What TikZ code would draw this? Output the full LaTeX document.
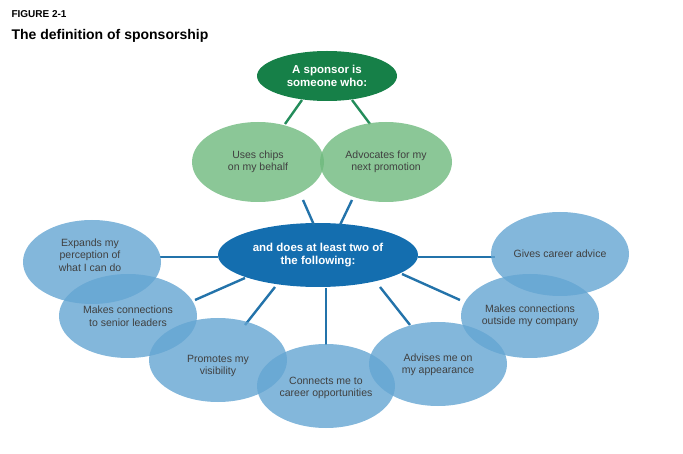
\documentclass[tikz,border=0pt]{standalone}
\usepackage{fontspec}
\setmainfont{Liberation Sans}
\usetikzlibrary{shapes.geometric}
\definecolor{darkgreen}{RGB}{22,128,72}
\definecolor{lightgreen}{RGB}{110,185,125}
\definecolor{darkblue}{RGB}{20,110,175}
\definecolor{lightblue}{RGB}{100,165,210}
\definecolor{spoke}{RGB}{35,115,170}
\definecolor{grnline}{RGB}{35,140,90}
\begin{document}
\begin{tikzpicture}[x=1pt,y=-1pt,
    hub/.style={ellipse, text=white, font=\bfseries\fontsize{11.5}{13}\selectfont, align=center, inner sep=0pt},
    leaf/.style={ellipse, fill opacity=0.8, inner sep=0pt, minimum width=138pt, minimum height=84pt},
    gleaf/.style={leaf, fill=lightgreen, minimum width=132pt, minimum height=80pt},
    bleaf/.style={leaf, fill=lightblue},
    label/.style={font=\fontsize{10.5}{12.5}\selectfont, align=center, text=black!75},
    link/.style={line width=2.4pt}]
        \useasboundingbox (0,0) rectangle (683,454);
        % Titles
        \node [anchor=west, font=\bfseries\fontsize{10}{12}\selectfont] (fig) at (8,14) {FIGURE 2-1};
        \node [anchor=west, font=\bfseries\fontsize{14}{16}\selectfont] (title) at (8,36) {The definition of sponsorship};

        % Hubs
        \node [hub, fill=darkgreen, minimum width=140pt, minimum height=50pt] (top) at (327,76) {A sponsor is\\someone who:};
        \node [hub, fill=darkblue, minimum width=200pt, minimum height=64pt] (mid) at (318,255) {and does at least two of\\the following:};

        % Green leaves
        \coordinate (gl) at (258,162);
        \coordinate (gr) at (386,162);
        \draw [link, grnline] (302,100) -- (285,124);
        \draw [link, grnline] (352,100) -- (370,124);
        \draw [link, spoke] (303,200) -- (314,225);
        \draw [link, spoke] (352,200) -- (340,225);
        \node [gleaf] (chips) at (gl) {};
        \node [gleaf] (promo) at (gr) {};
        \node [label] at (chips) {Uses chips\\on my behalf};
        \node [label] at (promo) {Advocates for my\\next promotion};

        % Spokes
        \draw [link, spoke] (218,257) -- (160,257);
        \draw [link, spoke] (245,278) -- (195,300);
        \draw [link, spoke] (275,287) -- (245,325);
        \draw [link, spoke] (326,288) -- (326,345);
        \draw [link, spoke] (380,287) -- (410,325);
        \draw [link, spoke] (402,274) -- (460,300);
        \draw [link, spoke] (418,257) -- (495,257);

        % Blue leaves
        \node [bleaf] (expand) at (92,262) {};
        \node [bleaf] (senior) at (128,316) {};
        \node [bleaf] (visib) at (218,360) {};
        \node [bleaf] (career) at (326,386) {};
        \node [bleaf] (appear) at (438,364) {};
        \node [bleaf] (outside) at (530,316) {};
        \node [bleaf] (advice) at (560,254) {};

        % Leaf texts
        \node [label] at (90,255) {Expands my\\perception of\\what I can do};
        \node [label] at (128,316) {Makes connections\\to senior leaders};
        \node [label] at (218,366) {Promotes my\\visibility};
        \node [label] at (326,388) {Connects me to\\career opportunities};
        \node [label] at (438,365) {Advises me on\\my appearance};
        \node [label] at (530,316) {Makes connections\\outside my company};
        \node [label] at (560,254) {Gives career advice};
\end{tikzpicture}
\end{document}
